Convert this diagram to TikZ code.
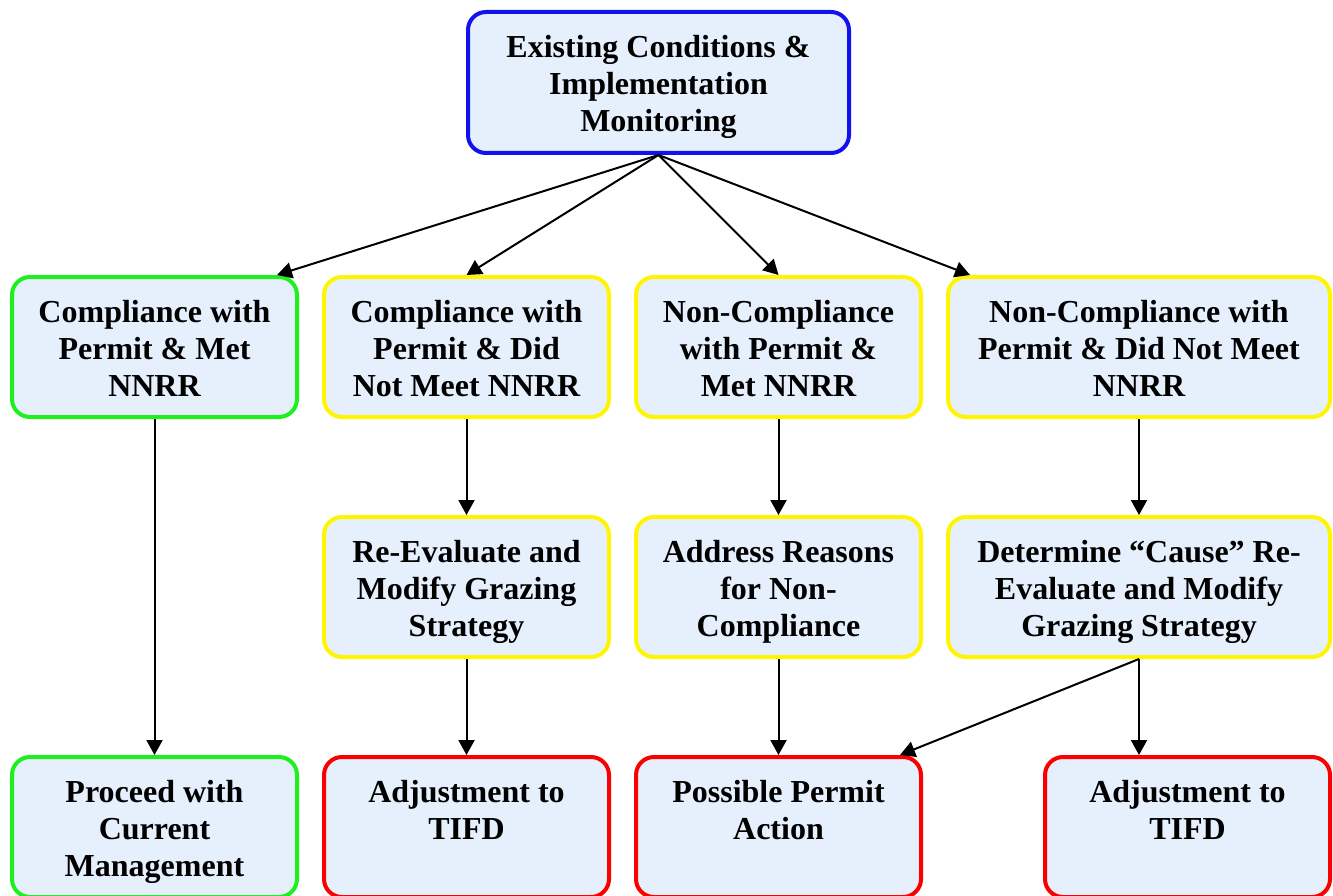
\documentclass[tikz,border=0pt]{standalone}
\usepackage{fontspec}
\setmainfont{Liberation Serif}
\usepackage{xcolor}
\usetikzlibrary{arrows.meta,positioning}
\definecolor{boxfill}{RGB}{230,240,253}
\definecolor{topblue}{RGB}{18,18,235}
\definecolor{okgreen}{RGB}{30,240,30}
\definecolor{warnyellow}{RGB}{255,245,0}
\definecolor{actred}{RGB}{250,0,0}
\newcommand*{\boxtext}[2][281pt]{%
  \parbox[c][140pt][t]{#1}{\centering\rule{0pt}{45pt}#2\par}}

\begin{document}
\begin{tikzpicture}[x=1pt, y=-1pt,
    box/.style = {draw, line width=4pt, rounded corners=18pt,
      fill=boxfill, anchor=north, inner sep=0pt,
      minimum width=285pt, minimum height=140pt,
      font=\fontsize{32}{37}\selectfont\bfseries},
    wide/.style = {minimum width=382pt},
    arr/.style  = {line width=2pt,
      -{Triangle[length=15pt,width=16pt]}}
  ]
  \useasboundingbox (0,0) rectangle (1333,896);
  % monitoring
  \node[box, draw=topblue, minimum width=381pt, minimum height=141pt]
    (mon) at (658.5,10)
    {\boxtext[377pt]{Existing Conditions \&\\Implementation\\Monitoring}};
  % results
  \node[box, draw=okgreen] (metok) at (154.5,275)
    {\boxtext{Compliance with\\Permit \& Met\\NNRR}};
  \node[box, draw=warnyellow] (metnot) at (466.5,275)
    {\boxtext{Compliance with\\Permit \& Did\\Not Meet NNRR}};
  \node[box, draw=warnyellow] (nonmet) at (778.5,275)
    {\boxtext{Non-Compliance\\with Permit \&\\Met NNRR}};
  \node[box, wide, draw=warnyellow] (nonnot) at (1139,275)
    {\boxtext[378pt]{Non-Compliance with\\Permit \& Did Not Meet\\NNRR}};
  % follow-up
  \node[box, draw=warnyellow] (reeval) at (466.5,515)
    {\boxtext{Re-Evaluate and\\Modify Grazing\\Strategy}};
  \node[box, draw=warnyellow] (reasons) at (778.5,515)
    {\boxtext{Address Reasons\\for Non-\\Compliance}};
  \node[box, wide, draw=warnyellow] (cause) at (1139,515)
    {\boxtext[378pt]{Determine “Cause” Re-\\Evaluate and Modify\\Grazing Strategy}};
  % actions
  \node[box, draw=okgreen] (proceed) at (154.5,755)
    {\boxtext{Proceed with\\Current\\Management}};
  \node[box, draw=actred] (tifdA) at (466.5,755)
    {\boxtext{Adjustment to\\TIFD}};
  \node[box, draw=actred] (permit) at (778.5,755)
    {\boxtext{Possible Permit\\Action}};
  \node[box, draw=actred] (tifdB) at (1187.5,755)
    {\boxtext{Adjustment to\\TIFD}};

  \draw[arr] (mon.south) -- ([xshift=-22pt]metok.north east);
  \draw[arr] (mon.south) -- (metnot.north);
  \draw[arr] (mon.south) -- (nonmet.north);
  \draw[arr] (mon.south) -- ([xshift=24pt]nonnot.north west);
  \draw[arr] (metok) -- (proceed);
  \draw[arr] (metnot) -- (reeval);
  \draw[arr] (nonmet) -- (reasons);
  \draw[arr] (nonnot) -- (cause);
  \draw[arr] (reeval) -- (tifdA);
  \draw[arr] (reasons) -- (permit);
  \draw[arr] (cause.south) -- ([xshift=-23pt]permit.north east);
  \draw[arr] (cause.south) -- (cause.south |- tifdB.north);
\end{tikzpicture}
\end{document}
